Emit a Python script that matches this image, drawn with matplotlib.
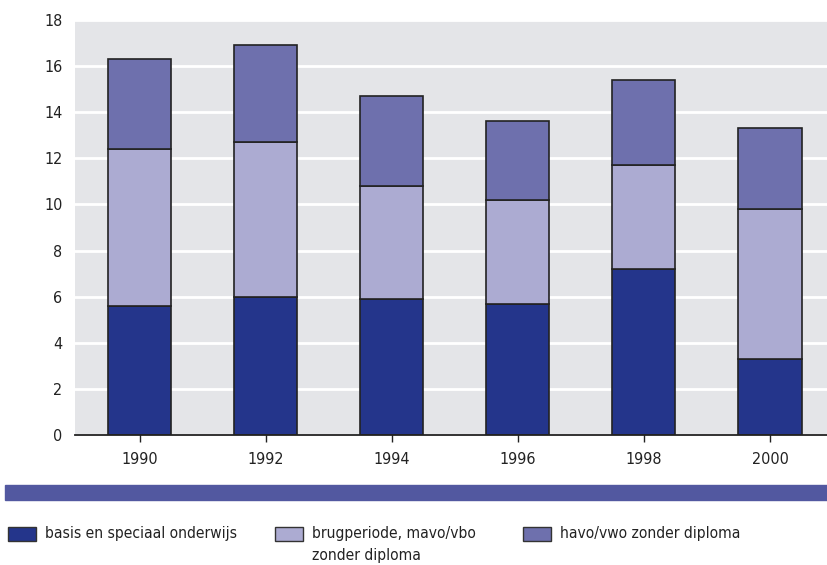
import numpy as np
import matplotlib
matplotlib.use("Agg")
import matplotlib.pyplot as plt
from matplotlib.patches import Rectangle

jaren = ["1990", "1992", "1994", "1996", "1998", "2000"]
basis = [5.6, 6.0, 5.9, 5.7, 7.2, 3.3]
brug_top = [12.4, 12.7, 10.8, 10.2, 11.7, 9.8]
totaal = [16.3, 16.9, 14.7, 13.6, 15.4, 13.3]
brug = [t - b for t, b in zip(brug_top, basis)]
havo = [t - b for t, b in zip(totaal, brug_top)]

labels = ["basis en speciaal onderwijs", "brugperiode, mavo/vbo\nzonder diploma",
          "havo/vwo zonder diploma"]
kleuren = ["#24358b", "#acabd2", "#6e70ad"]

plt.rcParams['font.family'] = ['DejaVu Sans']
plt.rcParams['font.stretch'] = 'condensed'

fig = plt.figure(figsize=(8.28, 5.65), dpi=100)
W, H = 828.0, 565.0
ax = fig.add_axes([75 / W, 1 - 435 / H, (828 - 75) / W, (435 - 20) / H])
ax.set_facecolor("#e4e5e8")

x = np.arange(len(jaren))
ax.bar(x, basis, 0.5, color=kleuren[0], edgecolor="#222222", lw=1.2, zorder=3)
ax.bar(x, brug, 0.5, bottom=basis, color=kleuren[1], edgecolor="#222222", lw=1.2, zorder=3)
ax.bar(x, havo, 0.5, bottom=brug_top, color=kleuren[2], edgecolor="#222222", lw=1.2, zorder=3)

ax.set_ylim(0, 18)
ax.set_xlim(-0.512, 5.46)
ax.set_yticks(range(0, 19, 2))
ax.set_xticks(x)
ax.set_xticklabels(jaren)
ax.grid(axis="y", color="white", lw=2, zorder=1)
for s in ["top", "right", "left"]:
    ax.spines[s].set_visible(False)
ax.spines["bottom"].set_color("#222222")
ax.spines["bottom"].set_linewidth(1.3)
ax.spines["bottom"].set_zorder(4)
ax.tick_params(axis="y", length=0, pad=9, labelsize=11.5, labelcolor="#222222")
ax.tick_params(axis="x", direction="inout", length=10, width=1, color="#222222",
               labelsize=11.5, labelcolor="#222222", pad=7)

# blauwe balk
fig.patches.append(Rectangle((5 / W, 1 - 500 / H), (828 - 5) / W, 15 / H,
                             transform=fig.transFigure, color="#5258a0", zorder=0))

# legenda
legx = [8, 275, 523]
for lx, lab, kl in zip(legx, labels, kleuren):
    fig.patches.append(Rectangle((lx / W, 1 - 541 / H), 28 / W, 14 / H,
                                 transform=fig.transFigure, facecolor=kl,
                                 edgecolor="#333333", lw=1))
    fig.text((lx + 37) / W, 1 - 526 / H, lab, fontsize=11.2, va="top", ha="left",
             color="#222222", linespacing=1.6)

fig.savefig("out.png", dpi=100)
